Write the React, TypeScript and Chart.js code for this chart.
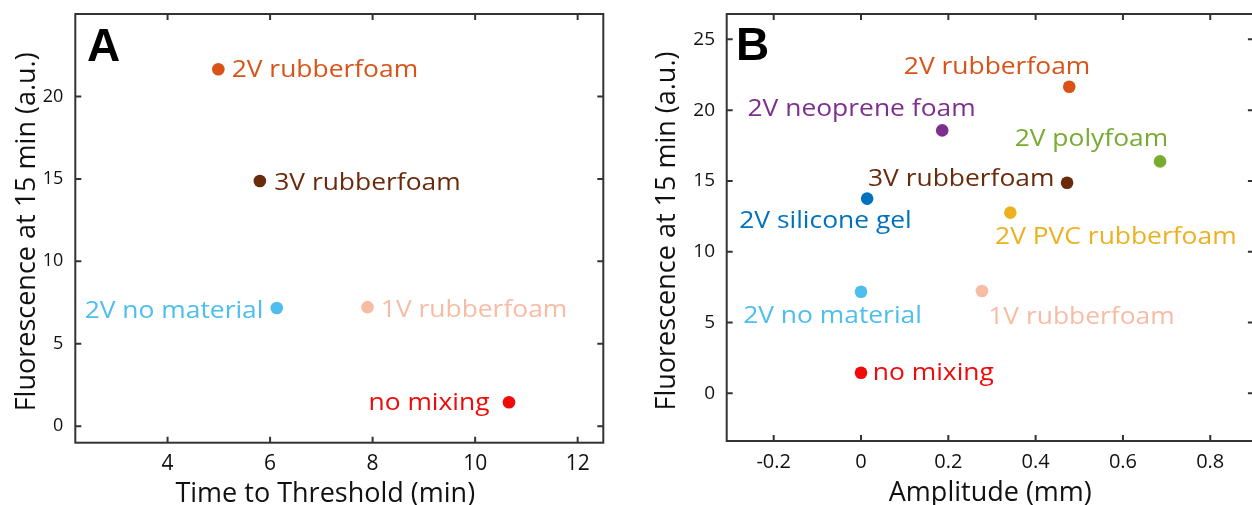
import React, { useEffect, useRef } from "react";
import { Chart, registerables } from "chart.js";

Chart.register(...registerables);

// ---------- Panel A data ----------
const A_NAMES = ["2V rubberfoam", "3V rubberfoam", "2V no material", "1V rubberfoam", "no mixing"];
const A_TIME = [4.99, 5.8, 6.13, 7.9, 10.66];
const A_FLUOR = [21.65, 14.87, 7.17, 7.22, 1.45];
const A_LABEL_X = [5.25, 6.08, 5.87, 8.16, 10.28];
const A_LABEL_Y = [21.67, 14.86, 7.11, 7.15, 1.53];
const A_LABEL_ALIGN = ["left", "left", "right", "left", "right"];
const A_X_TICKS = [4, 6, 8, 10, 12];
const A_Y_TICKS = [0, 5, 10, 15, 20];

// ---------- Panel B data ----------
const B_NAMES = [
  "2V rubberfoam",
  "2V neoprene foam",
  "2V polyfoam",
  "3V rubberfoam",
  "2V silicone gel",
  "2V PVC rubberfoam",
  "2V no material",
  "1V rubberfoam",
  "no mixing",
];
const B_AMP = [0.477, 0.186, 0.685, 0.472, 0.014, 0.342, 0.0, 0.277, 0.0];
const B_FLUOR = [21.65, 18.57, 16.38, 14.87, 13.75, 12.76, 7.17, 7.22, 1.45];
const B_LABEL_X = [0.098, -0.26, 0.352, 0.016, -0.279, 0.307, -0.27, 0.2915, 0.027];
const B_LABEL_Y = [23.14, 20.2, 18.1, 15.28, 12.31, 11.13, 5.6, 5.53, 1.51];
const B_X_TICKS = [-0.2, 0, 0.2, 0.4, 0.6, 0.8];
const B_Y_TICKS = [0, 5, 10, 15, 20, 25];

const Y_TITLE = "Fluorescence at 15 min (a.u.)";
const A_X_TITLE = "Time to Threshold (min)";
const B_X_TITLE = "Amplitude (mm)";

const COLORS: Record<string, string> = {
  "2V rubberfoam": "#D95319",
  "3V rubberfoam": "#6A2A0C",
  "2V no material": "#4DBEEE",
  "1V rubberfoam": "#F7BCA4",
  "no mixing": "#F00A0A",
  "2V neoprene foam": "#7E2F8E",
  "2V polyfoam": "#77AC30",
  "2V silicone gel": "#0072BD",
  "2V PVC rubberfoam": "#EDB120",
};

const FONT = "'Open Sans', 'Noto Sans', sans-serif";
const AXIS_COLOR = "#333333";
const LABEL_SIZE = 24;
const LABEL_STRETCH = 1.1;
const TICK_LEN = 6;

const boxPlugin = {
  id: "boxAndLabels",
  afterDatasetsDraw(chart: any, _args: any, opts: any) {
    const { ctx, chartArea: ca } = chart;
    const xs = chart.scales.x;
    const ys = chart.scales.y;
    ctx.save();
    // frame
    ctx.strokeStyle = AXIS_COLOR;
    ctx.lineWidth = 2;
    ctx.strokeRect(ca.left, ca.top, ca.right - ca.left, ca.bottom - ca.top);
    // inward ticks on all sides
    ctx.beginPath();
    xs.ticks.forEach((t: any) => {
      const px = xs.getPixelForValue(t.value);
      ctx.moveTo(px, ca.bottom);
      ctx.lineTo(px, ca.bottom - TICK_LEN);
      ctx.moveTo(px, ca.top);
      ctx.lineTo(px, ca.top + TICK_LEN);
    });
    ys.ticks.forEach((t: any) => {
      const py = ys.getPixelForValue(t.value);
      ctx.moveTo(ca.left, py);
      ctx.lineTo(ca.left + TICK_LEN, py);
      ctx.moveTo(ca.right, py);
      ctx.lineTo(ca.right - TICK_LEN, py);
    });
    ctx.stroke();
    // text labels
    ctx.font = `${LABEL_SIZE}px ${FONT}`;
    ctx.textBaseline = "alphabetic";
    const capHalf = (LABEL_SIZE * 0.714) / 2;
    (opts.labels || []).forEach((l: any) => {
      const px = xs.getPixelForValue(l.x);
      const py = ys.getPixelForValue(l.y) + capHalf;
      ctx.save();
      ctx.translate(px, py);
      ctx.scale(LABEL_STRETCH, 1);
      ctx.fillStyle = l.color;
      ctx.textAlign = l.align;
      ctx.fillText(l.text, 0, 0);
      ctx.restore();
    });
    // panel letter
    ctx.font = "bold 46px 'Liberation Sans', Arial, sans-serif";
    ctx.fillStyle = "#000";
    ctx.textAlign = "left";
    ctx.fillText(opts.letter, ca.left + opts.letterDx, ca.top + opts.letterDy);
    ctx.restore();
  },
};

function zeroPad(s: any) {
  s.paddingLeft = 0;
  s.paddingRight = 0;
  s.paddingTop = 0;
  s.paddingBottom = 0;
}

function makeConfig(p: any) {
  return {
    type: "scatter",
    data: {
      datasets: [
        {
          data: p.names.map((_: string, i: number) => ({ x: p.xv[i], y: p.yv[i] })),
          backgroundColor: p.names.map((n: string) => COLORS[n]),
          borderWidth: 0,
          pointRadius: 6.3,
          pointHoverRadius: 6.3,
        },
      ],
    },
    plugins: [boxPlugin],
    options: {
      animation: false,
      responsive: false,
      events: [],
      layout: {
        autoPadding: false,
        padding: { top: 14, right: p.padRight, left: 0, bottom: 0 },
      },
      plugins: {
        legend: { display: false },
        tooltip: { enabled: false },
        boxAndLabels: {
          labels: p.names.map((n: string, i: number) => ({
            text: n,
            x: p.lx[i],
            y: p.ly[i],
            align: p.align[i],
            color: COLORS[n],
          })),
          letter: p.letter,
          letterDx: p.letterDx,
          letterDy: p.letterDy,
        },
      },
      scales: {
        x: {
          type: "linear",
          min: p.xmin,
          max: p.xmax,
          afterBuildTicks: (s: any) => {
            s.ticks = p.xticks.map((v: number) => ({ value: v }));
          },
          afterFit: (s: any) => {
            s.height = p.xAxisH;
            zeroPad(s);
          },
          grid: { display: false, drawTicks: false },
          border: { display: false },
          ticks: {
            color: "#111",
            padding: p.xTickPad,
            maxRotation: 0,
            autoSkip: false,
            font: { family: FONT, size: p.xTickSize },
            callback: (v: number) => String(v),
          },
          title: {
            display: true,
            text: p.xTitle + p.xTitleShift,
            color: "#111",
            padding: 0,
            font: { family: FONT, size: 27, lineHeight: p.xTitleLH },
          },
        },
        y: {
          type: "linear",
          min: p.ymin,
          max: p.ymax,
          afterBuildTicks: (s: any) => {
            s.ticks = p.yticks.map((v: number) => ({ value: v }));
          },
          afterFit: (s: any) => {
            s.width = p.yAxisW;
            zeroPad(s);
          },
          grid: { display: false, drawTicks: false },
          border: { display: false },
          ticks: {
            color: "#111",
            padding: p.yTickPad,
            autoSkip: false,
            font: { family: FONT, size: p.yTickSize },
            callback: (v: number) => String(v),
          },
          title: {
            display: true,
            text: Y_TITLE + " ",
            color: "#111",
            padding: { top: p.yTitlePad, bottom: 0 },
            font: { family: FONT, size: 27 },
          },
        },
      },
    },
  };
}

const PANEL_A = {
  names: A_NAMES,
  xv: A_TIME,
  yv: A_FLUOR,
  lx: A_LABEL_X,
  ly: A_LABEL_Y,
  align: A_LABEL_ALIGN,
  xticks: A_X_TICKS,
  yticks: A_Y_TICKS,
  xmin: 2.2,
  xmax: 12.5,
  ymin: -1,
  ymax: 25,
  xTitle: A_X_TITLE,
  xTitleShift: "    ",
  padRight: 16.7,
  xAxisH: 62.3,
  yAxisW: 75.3,
  xTickPad: 8.7,
  yTickPad: 12,
  xTickSize: 21,
  yTickSize: 18,
  xTitleLH: 0.77,
  yTitlePad: 11,
  letter: "A",
  letterDx: 11.7,
  letterDy: 47,
};

const PANEL_B = {
  names: B_NAMES,
  xv: B_AMP,
  yv: B_FLUOR,
  lx: B_LABEL_X,
  ly: B_LABEL_Y,
  align: B_NAMES.map(() => "left"),
  xticks: B_X_TICKS,
  yticks: B_Y_TICKS,
  xmin: -0.3077,
  xmax: 0.9,
  ymin: -3.37,
  ymax: 26.79,
  xTitle: B_X_TITLE,
  xTitleShift: "",
  padRight: 0.1,
  xAxisH: 64,
  yAxisW: 96.7,
  xTickPad: 9,
  yTickPad: 11.7,
  xTickSize: 20,
  yTickSize: 19,
  xTitleLH: 0.87,
  yTitlePad: 21,
  letter: "B",
  letterDx: 9.3,
  letterDy: 45.5,
};

function Panel({ cfg, left, width }: { cfg: any; left: number; width: number }) {
  const ref = useRef<HTMLCanvasElement | null>(null);
  useEffect(() => {
    if (!ref.current) return;
    const chart = new Chart(ref.current, makeConfig(cfg) as any);
    return () => chart.destroy();
  }, [cfg]);
  return (
    <canvas
      ref={ref}
      width={width}
      height={505}
      style={{ position: "absolute", left, top: 0, width, height: 505 }}
    />
  );
}

export default function App() {
  return (
    <div
      style={{
        position: "fixed",
        left: 0,
        top: 0,
        width: 1252,
        height: 505,
        overflow: "hidden",
        background: "#fff",
      }}
    >
      <Panel cfg={PANEL_A} left={0} width={620} />
      <Panel cfg={PANEL_B} left={630} width={624} />
    </div>
  );
}
